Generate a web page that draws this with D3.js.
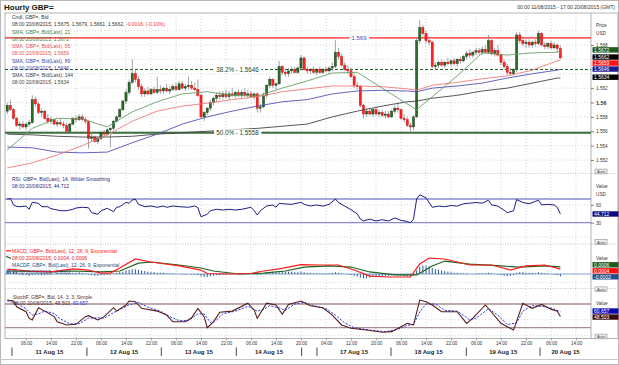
<!DOCTYPE html>
<html>
<head>
<meta charset="utf-8">
<script src="https://cdn.jsdelivr.net/npm/d3@7/dist/d3.min.js"></script>
<style>
body { margin: 0; background: #fff; }
svg { display: block; font-family: Arial, "Liberation Sans", sans-serif; }
</style>
</head>
<body>
<div id="chart"></div>
<script>
// hourly candles, prices in pips above 1.5500
var opens = [88,96,90,78,68,70,66,70,72,104, 98,86,88,78,74,76,70,72,70,68, 60,70,78,76,80,76,74,50,52,46,
  50,58,56,62,64,74,80,90,102,114, 128,140,132,122,112,116,112,118,114,118, 116,120,116,118,122,118,126,120,122,124,
  120,118,110,80,86,92,100,106,110,108, 112,108,112,110,114,110,114,110,112,108, 112,92,94,110,124,132,124,126,150,142,
  140,144,146,142,148,162,146,144,146,142, 146,142,146,144,148,150,170,164,152,146, 144,136,124,122,96,84,88,84,90,84,
  86,82,84,80,88,92,90,78,76,68, 66,80,186,204,196,186,184,150,152,156, 152,156,154,158,154,160,158,164,168,166,
  170,172,170,174,170,186,168,172,166,156, 150,142,140,146,194,186,182,184,180,184, 182,196,180,178,182,176,180,175];
var highs = [100,104,92,80,74,74,72,76,110,108, 100,92,90,84,80,78,76,78,74,72, 72,80,82,84,84,80,76,58,54,52,
  60,62,64,66,76,82,92,104,118,132, 160,146,136,126,120,122,120,122,136,124, 122,126,122,126,128,130,130,126,136,130,
  128,132,112,88,94,104,108,114,116,116, 118,116,120,116,118,118,120,118,116,114, 114,98,114,126,136,134,128,158,152,146,
  148,150,150,150,166,164,150,148,150,148, 150,148,150,150,156,187,176,168,156,152, 148,140,128,124,98,92,92,92,94,90,
  90,88,88,90,96,100,92,84,80,72, 82,190,215,208,200,192,186,156,158,160, 158,162,160,162,162,164,166,172,174,172,
  176,176,178,180,194,188,176,180,168,160, 154,148,148,198,198,190,188,188,186,188, 200,198,184,184,186,184,182,179];
var lows = [84,88,76,66,62,64,62,66,70,94, 84,80,76,70,70,68,66,68,64,58, 58,68,72,74,74,70,36,46,44,42,
  48,52,54,38,62,72,78,88,98,110, 126,128,118,108,108,110,110,112,112,112, 112,114,112,116,116,116,118,116,118,118,
  116,108,78,74,82,88,96,100,104,104, 106,104,108,106,108,106,108,106,106,104, 86,86,92,106,120,120,118,124,138,136,
  136,140,140,140,144,144,140,140,140,138, 140,140,142,140,144,148,160,150,144,140, 134,120,118,94,78,80,82,80,82,80,
  80,78,78,78,84,86,76,72,66,58, 62,78,182,192,182,180,148,146,148,150, 148,152,150,152,150,154,156,160,162,162,
  166,166,166,168,168,166,164,164,152,146, 138,138,138,142,182,178,176,176,176,178, 180,178,174,174,174,174,170,161];
var closes = [96,90,78,68,70,66,70,72,104,98, 86,88,78,74,76,70,72,70,68,60, 70,78,76,80,76,74,50,52,46,50,
  58,56,62,64,74,80,90,102,114,128, 140,132,122,112,116,112,118,114,118,116, 120,116,118,122,118,126,120,122,124,120,
  118,110,80,86,92,100,106,110,108,112, 108,112,110,114,110,114,110,112,108,112, 92,94,110,124,132,124,126,150,142,140,
  144,146,142,148,162,146,144,146,142,146, 142,146,144,148,150,170,164,152,146,144, 136,124,122,96,84,88,84,90,84,86,
  82,84,80,88,92,90,78,76,68,66, 80,186,204,196,186,184,150,152,156,152, 156,154,158,154,160,158,164,168,166,170,
  172,170,174,170,186,168,172,166,156,150, 142,140,146,194,186,182,184,180,184,182, 196,180,178,182,176,180,175,162];

// moving averages (pips above 1.5500)
var smaIdx = [0,8,16,24,32,40,48,56,64,72,80,88,96,104,112,120,128,131,136,144,152,160,168,176,177];
var sma21 = [34,64,78,77,66,87,101,112,115,110,109,120,130,141,142,120,98,90,108,137,169,166,169,170,172];
var sma55 = [9,16,27,40,55,74,88,95,99,104,108,115,119,123,123,122,119,117,124,128,133,137,145,158,159];
var sma89 = [38,37,31,30,31,44,56,70,80,88,95,101,104,112,116,117,116,115,120,123,127,134,140,145,146];
var sma144 = [56,55,53,52,52,53,56,58,60,62,64,67,70,80,88,95,101,102,106,110,116,120,127,134,134];

// retracement / resistance levels
var levels = [1.569, 1.5646, 1.5558];
var levelLabels = ["1.569", "38.2% - 1.5646", "50.0% - 1.5558"];

// RSI 14
var rsiIdx = [0,1,2,3,4,6,7,8,10,11,13,14,15,17,19,21,22,24,26,27,29,30,32,34,35,36,38,39,40,41,42,44,46,48,50,51,53,55,58,60,
  61,62,64,65,67,69,71,73,75,78,79,80,81,83,85,86,87,89,91,94,95,97,99,101,103,105,106,108,110,112,113,114,116,118,120,
  122,124,126,128,129,130,131,132,134,136,138,140,142,144,146,148,150,152,154,155,157,159,160,162,163,165,167,170,171,173,175,176,177];
var rsiVals = [69.5,71,60,57.5,57,58,52.6,64.4,62.7,57,57,53.6,52.6,50.3,50.3,52.6,54.8,56,55.3,46.9,44.2,50.3,54.3,48.6,56,57,64.4,62.7,68.3,69.5,61,57,58.2,56,58.2,56,58.2,57,56,58.2,
  55.3,40.1,44.2,50.3,52.6,51.4,52.6,51.4,52.6,56,50.3,43,50.3,58.2,59.9,56,62.7,61.6,61,64.4,61,58.2,60,58,61,70,64,58,52,45,36,33,36,33,35,
  33,38,34,32,30,36,70,77,72,56,58,57,59,58,62,63,64,63,68,60,58,51,47,50,69,64,62,68,60,61,60,56,44.712];

// MACD 12/26/9 (pips)
var macdIdx = [0,7,14,21,26,30,33,36,41,46,55,62,64,71,78,82,87,94,100,106,111,116,122,129,132,135,140,148,155,161,166,172,177];
var macdVals = [4,2.5,1.7,4.2,3.3,0.8,0.8,5,12.5,10,6.7,3.3,0.4,0,0.4,2.5,4.2,7.8,7.5,7.5,3.3,-1.7,-2.5,-2.5,8.3,13.3,12.5,7.5,7.5,3.3,6.7,7.5,4];
var sigIdx = [0,14,21,30,36,42,46,55,62,66,74,82,89,95,103,110,116,124,131,136,140,148,158,164,172,177];
var sigVals = [2.5,1.7,2.5,1.7,2.5,9,10,7.5,5,2.5,0,0.8,2.5,5.8,6.7,5.8,1.7,-0.8,-0.8,6.7,10.8,8.3,6.7,5.8,6.7,6];
var histVals = [3,2.5,2,1.5, -0.5,-1,-1,-1.5,-1,-0.5,-0.5,-1,-1,-0.5, -0.5,0,0.5,0.5,0,-0.5,0.5,1,1,1.5,1,0.5,
  -0.5,-1,-1.5,-1.5,-1,-1,-0.5,-0.5, 0.5,1,1.5,2,3,3.5,4,4,3.5,3,2.5,2, 1.5,1.5,1,1,1,0.5,0.5,0.5,0,0,-0.5,-0.5,0,-0.5,-0.5,
  -1,-2,-2.5,-2.5,-2,-1.5,-1,-1, -0.5,-0.5,0,0,0,0.5,0,0,0,0,-0.5,-1, -0.5,0,1,1.5,2,2,1.5,2.5,2,2,2,1.5,1.5,2,1.5,
  1,1,0.5,0.5,0.5,0.5,0.5,0.5,1,1.5, 1,0.5,0,-0.5,-1,-1.5,-2,-3,-3.5,-3.5,-3,-2.5,-2.5,-2,-2,-1.5,-1.5,-1,-1,-1.5,-1.5,-2,-2,-2,-1.5,
  3,6,7,7,6.5,5,4,3.5,3,2.5, 2,1.5,1,1,0.5,0.5,0.5,0,0,0.5, 0.5,0.5,0.5,1,0.5,0,-0.5,-1,-1.5,-2,
  -1.5,-1,1,1.5,1.5,1,1,1,0.5,1.5, 1,0.5,0.5,0,-0.5,-1,-2];

// fast stochastic 14/3/3
var kIdx = [0,2,3,6,7,8,10,12,15,16,19,22,25,26,29,31,34,35,38,39,41,43,48,51,53,57,59,61,63,64,66,68,72,77,79,80,83,86,88,90,94,
  97,101,104,107,110,115,120,123,126,128,130,132,134,136,139,144,147,149,153,158,162,165,168,171,174,176,177];
var kVals = [90,87.6,73,60.5,44,39.5,70.6,62,48,35,27,28.6,48,50.4,39.5,48,70.6,62,77.5,87.6,85.8,69,62,52,35,35,45,69,48,20,35,59,62,82,65,44,82,77.5,54,79,87.6,
  75.7,70.6,52,27,18.5,14,8.4,10,22.5,31,27,90,85.8,77.5,60.5,60.5,31,44,77.5,31,14,82,69,79,67,62,48.503];
var dIdx = [0,3,6,8,10,12,15,17,20,23,26,29,31,34,36,39,42,45,49,52,55,58,61,63,65,67,69,73,77,80,82,84,87,89,92,95,98,102,105,108,111,
  116,121,125,128,130,132,134,137,140,144,148,150,154,157,160,163,165,168,171,174,177];
var dVals = [88,82,68,52,55,62,56,42,30,30,44,45,44,58,66,78,84,72,62,48,38,38,55,55,33,40,55,62,74,62,66,76,70,64,80,84,76,68,52,32,20,
  14,10,16,26,28,60,80,80,64,62,40,44,68,52,28,32,62,76,74,70,60.657];

// time axis: a tick every 8 bars, day separators
var tickIdx = [6,14,22,30,38,46,54,62,70,78,86,94,102,110,118,126,134,142,150,158,166,174,182];
var tickLabels = ["06:00","14:00","22:00","06:00","14:00","22:00","06:00","14:00","22:00","06:00","14:00","20:00",
  "04:00","12:00","20:00","06:00","14:00","22:00","06:00","14:00","22:00","06:00","14:00"];
var dayIdx = [1.5,25.5,49.3,73.3,94.2,99.1,122.8,146.9,170.5];
var dayLabels = ["11 Aug 15","12 Aug 15","13 Aug 15","14 Aug 15","","17 Aug 15","18 Aug 15","19 Aug 15","20 Aug 15"];
var priceGrid = [1.552,1.554,1.556,1.558,1.56,1.562,1.564,1.566,1.568,1.57];
var priceTicks = [1.552,1.554,1.556,1.558,1.56,1.562,1.568];

var W = 619, H = 365, L = 5, R = 591;
var panelTop = {price: 13, rsi: 173.5, macd: 244, stoch: 288.5, axis: 338.5};
var P = function(v) { return 1.55 + v / 10000; };
var last = closes.length - 1;

var svg = d3.select("#chart").append("svg").attr("width", W).attr("height", H);
svg.append("rect").attr("x", 0.5).attr("y", 0.5).attr("width", W - 1).attr("height", H - 1)
  .attr("fill", "#fff").attr("stroke", "#b8b8b8");

var x = d3.scaleLinear().domain([0, 177]).range([7.25, 7.25 + 177 * 3.125]);
var yP = d3.scaleLinear().domain([1.552, 1.568]).range([160, 45]);
var yR = d3.scaleLinear().domain([30, 70]).range([222.7, 199]);
var yM = d3.scaleLinear().domain([0, 0.001]).range([274, 262]);
var yS = d3.scaleLinear().domain([20, 80]).range([327.7, 304]);

// clip paths per panel
var defs = svg.append("defs");
[["cP", panelTop.price, panelTop.rsi], ["cR", panelTop.rsi, panelTop.macd], ["cM", panelTop.macd, panelTop.stoch], ["cS", panelTop.stoch, panelTop.axis]].forEach(function(c) {
  defs.append("clipPath").attr("id", c[0]).append("rect")
    .attr("x", L).attr("y", c[1]).attr("width", R - L).attr("height", c[2] - c[1]);
});

// title
svg.append("text").attr("x", 4).attr("y", 9.5).attr("font-size", 8).attr("font-weight", "bold")
  .attr("fill", "#111").text("Hourly GBP=");
svg.append("text").attr("x", 615).attr("y", 9).attr("text-anchor", "end").attr("font-size", 5)
  .attr("fill", "#333").text("00:00 11/08/2015 - 17:00 20/08/2015 (GMT)");

// frame and panel separators
svg.append("rect").attr("x", L).attr("y", panelTop.price).attr("width", W - 1 - L).attr("height", panelTop.axis - panelTop.price)
  .attr("fill", "none").attr("stroke", "#a0a0a0").attr("stroke-width", 0.8);
svg.append("line").attr("x1", R).attr("x2", R).attr("y1", panelTop.price).attr("y2", panelTop.axis)
  .attr("stroke", "#a0a0a0").attr("stroke-width", 0.8);
[panelTop.rsi, panelTop.macd, panelTop.stoch].forEach(function(y) {
  svg.append("line").attr("x1", L).attr("x2", W - 1).attr("y1", y).attr("y2", y)
    .attr("stroke", "#b0b0b0").attr("stroke-width", 0.8).attr("stroke-dasharray", "1,1.5");
});

// grid
var grid = svg.append("g").attr("stroke", "#c4c4c4").attr("stroke-width", 0.7).attr("stroke-dasharray", "1,2");
grid.selectAll(".vg").data(tickIdx).join("line").attr("class", "vg")
  .attr("x1", function(d) { return x(d); }).attr("x2", function(d) { return x(d); })
  .attr("y1", panelTop.price).attr("y2", panelTop.axis);
grid.selectAll(".pg").data(priceGrid).join("line").attr("class", "pg")
  .attr("x1", L).attr("x2", R).attr("y1", function(d) { return yP(d); }).attr("y2", function(d) { return yP(d); });
[yR(60), yR(0) - 3.5, yM(-0.0007), yS(40), yS(0)].forEach(function(y) {
  grid.append("line").attr("x1", L).attr("x2", R).attr("y1", y).attr("y2", y);
});

// ---- price panel
var pp = svg.append("g").attr("clip-path", "url(#cP)");
var lvColors = ["#ff2020", "#1a5a1a", "#3d6e3d"];
levels.forEach(function(v, k) {
  pp.append("line").attr("x1", L).attr("x2", R).attr("y1", yP(v)).attr("y2", yP(v))
    .attr("stroke", lvColors[k]).attr("stroke-width", k == 2 ? 2 : (k == 0 ? 1.2 : 1))
    .attr("stroke-dasharray", k == 1 ? "3,2" : null);
});
var bars = closes.map(function(c, i) { return {i: i, o: opens[i], h: highs[i], l: lows[i], c: c}; });
pp.selectAll(".wick").data(bars).join("line").attr("class", "wick")
  .attr("x1", function(d) { return x(d.i); }).attr("x2", function(d) { return x(d.i); })
  .attr("y1", function(d) { return yP(P(d.h)); }).attr("y2", function(d) { return yP(P(d.l)); })
  .attr("stroke", "#8c8c8c").attr("stroke-width", 0.8);
pp.selectAll(".body").data(bars).join("rect").attr("class", "body")
  .attr("x", function(d) { return x(d.i) - 1.1; }).attr("width", 2.2)
  .attr("y", function(d) { return yP(P(Math.max(d.o, d.c))); })
  .attr("height", function(d) { return Math.max(0.8, Math.abs(yP(P(d.o)) - yP(P(d.c)))); })
  .attr("fill", function(d) { return d.c >= d.o ? "#2b6b2b" : "#ff2222"; })
  .attr("stroke", function(d) { return d.c >= d.o ? "#0c2c0c" : "#c80000"; })
  .attr("stroke-width", 0.4);

var smaLine = d3.line().x(function(d, k) { return x(smaIdx[k]); }).y(function(d) { return yP(P(d)); });
[[sma144, "#444"], [sma89, "#5252b8"], [sma55, "#f07a7a"], [sma21, "#6a9e6a"]].forEach(function(s) {
  pp.append("path").attr("d", smaLine(s[0])).attr("fill", "none").attr("stroke", s[1]).attr("stroke-width", 0.9);
});

// level labels
var lvLabelX = [359, 237.5, 237.5];
var lvLabelColor = ["#4a4ac0", "#1a4a1a", "#1a4a1a"];
levels.forEach(function(v, k) {
  var t = svg.append("text").attr("x", lvLabelX[k]).attr("y", yP(v) + 2.1).attr("text-anchor", "middle")
    .attr("font-size", k == 0 ? 6 : 6.3).attr("fill", lvLabelColor[k]).text(levelLabels[k]);
  var b = t.node().getBBox();
  svg.insert("rect", function() { return t.node(); }).attr("x", b.x - 2).attr("y", b.y + 0.5)
    .attr("width", b.width + 4).attr("height", b.height - 1).attr("fill", "#fff");
});

// legend helper
function legend(lines, x0, y0, step) {
  var g = svg.append("g").attr("font-size", 5);
  lines.forEach(function(parts, k) {
    var t = g.append("text").attr("x", x0).attr("y", y0 + k * step);
    parts.forEach(function(p) { t.append("tspan").attr("fill", p[1]).text(p[0]); });
  });
}
legend([
  [["Cndl, GBP=, Bid", "#333"]],
  [["08:00 20/08/2015, 1.5675, 1.5679, 1.5661, 1.5662, ", "#333"], ["-0.0016, (-0.10%)", "#ff3030"]],
  [["SMA, GBP=, Bid(Last),  21", "#3f7f3f"]],
  [["08:00 20/08/2015, 1.5672", "#3f7f3f"]],
  [["SMA, GBP=, Bid(Last),  55", "#e55050"]],
  [["08:00 20/08/2015, 1.5659", "#e55050"]],
  [["SMA, GBP=, Bid(Last),  89", "#4444a8"]],
  [["08:00 20/08/2015, 1.5646", "#4444a8"]],
  [["SMA, GBP=, Bid(Last),  144", "#444"]],
  [["08:00 20/08/2015, 1.5634", "#444"]]
], 12, 19, 7.25);

// ---- RSI panel
var rp = svg.append("g").attr("clip-path", "url(#cR)");
[70, 30].forEach(function(v) {
  rp.append("line").attr("x1", L).attr("x2", R).attr("y1", yR(v)).attr("y2", yR(v))
    .attr("stroke", "#8a8acc").attr("stroke-width", 1.3);
});
rp.append("path").datum(rsiVals)
  .attr("d", d3.line().x(function(d, k) { return x(rsiIdx[k]); }).y(function(d) { return yR(d); }))
  .attr("fill", "none").attr("stroke", "#1c1c88").attr("stroke-width", 1);
legend([
  [["RSI, GBP=, Bid(Last),  14, Wilder Smoothing", "#2a2a80"]],
  [["08:00 20/08/2015, 44.712", "#2a2a80"]]
], 12, 181, 7);

// ---- MACD panel
var mp = svg.append("g").attr("clip-path", "url(#cM)");
mp.append("line").attr("x1", L).attr("x2", R).attr("y1", yM(0)).attr("y2", yM(0))
  .attr("stroke", "#7fa2cc").attr("stroke-width", 1);
mp.selectAll(".hist").data(histVals).join("rect").attr("class", "hist")
  .attr("x", function(d, i) { return x(i) - 0.5; }).attr("width", 1)
  .attr("y", function(d) { return Math.min(yM(0), yM(d / 10000)); })
  .attr("height", function(d) { return Math.abs(yM(d / 10000) - yM(0)); })
  .attr("fill", "#2d5c9c");
mp.append("path").datum(sigVals)
  .attr("d", d3.line().x(function(d, k) { return x(sigIdx[k]); }).y(function(d) { return yM(d / 10000); }))
  .attr("fill", "none").attr("stroke", "#1d621d").attr("stroke-width", 1.2);
mp.append("path").datum(macdVals)
  .attr("d", d3.line().x(function(d, k) { return x(macdIdx[k]); }).y(function(d) { return yM(d / 10000); }))
  .attr("fill", "none").attr("stroke", "#ff1a1a").attr("stroke-width", 1.2);
legend([
  [["MACD, GBP=, Bid(Last),  12, 26, 9, Exponential", "#ff2020"]],
  [["08:00 20/08/2015, 0.0004, 0.0006", "#e02020"]],
  [["MACDF, GBP=, Bid(Last),  12, 26, 9, Exponential", "#2a4a7a"]],
  [["08:00 20/08/2015, -0.0002", "#2a4a7a"]]
], 12, 252.5, 7.2);
svg.append("line").attr("x1", 6).attr("x2", 11).attr("y1", 250.8).attr("y2", 250.8).attr("stroke", "#ff1a1a").attr("stroke-width", 1.2);
svg.append("line").attr("x1", 6).attr("x2", 11).attr("y1", 256.2).attr("y2", 258.5).attr("stroke", "#1d621d").attr("stroke-width", 1.2);
[7, 8.5, 10].forEach(function(xx) {
  svg.append("line").attr("x1", xx).attr("x2", xx).attr("y1", 270).attr("y2", 274).attr("stroke", "#2d5c9c").attr("stroke-width", 0.8);
});

// ---- Stochastic panel
var sp = svg.append("g").attr("clip-path", "url(#cS)");
[80, 20].forEach(function(v) {
  sp.append("line").attr("x1", L).attr("x2", R).attr("y1", yS(v)).attr("y2", yS(v))
    .attr("stroke", "#a88e8e").attr("stroke-width", 1.3);
});
sp.append("path").datum(dVals)
  .attr("d", d3.line().x(function(d, k) { return x(dIdx[k]); }).y(function(d) { return yS(d); }))
  .attr("fill", "none").attr("stroke", "#2a3ee6").attr("stroke-width", 1).attr("stroke-dasharray", "2.2,1.4");
sp.append("path").datum(kVals)
  .attr("d", d3.line().x(function(d, k) { return x(kIdx[k]); }).y(function(d) { return yS(d); }))
  .attr("fill", "none").attr("stroke", "#561c1c").attr("stroke-width", 1.1);
legend([
  [["StochF, GBP=, Bid,  14, 3, 3, Simple", "#5a2a2a"]],
  [["08:00 20/08/2015, 48.503, ", "#5a2a2a"], ["60.657", "#2a3ee6"]]
], 13, 298.5, 6.6);

// ---- right axes
var ax = svg.append("g").attr("transform", "translate(" + R + ",0)")
  .call(d3.axisRight(yP).tickValues(priceTicks).tickSize(3).tickPadding(2)
    .tickFormat(function(d) { return String(+d.toFixed(3)); }));
ax.select(".domain").remove();
ax.selectAll("line").attr("stroke", "#555").attr("stroke-width", 0.7);
ax.selectAll("text").attr("font-size", 4.7).attr("fill", "#333").attr("font-family", "Arial, 'Liberation Sans', sans-serif")
  .filter(function(d) { return d === 1.56; }).attr("font-size", 5.4).attr("font-weight", "bold");

var ra = svg.append("g").attr("transform", "translate(" + R + ",0)")
  .call(d3.axisRight(yR).tickValues([60, 30]).tickSize(3).tickPadding(2));
ra.select(".domain").remove();
ra.selectAll("line").attr("stroke", "#555").attr("stroke-width", 0.7);
ra.selectAll("text").attr("font-size", 4.7).attr("fill", "#333").attr("font-family", "Arial, 'Liberation Sans', sans-serif");

var small = svg.append("g").attr("font-size", 4.7).attr("fill", "#333");
[["Price", 27], ["USD", 35], ["Value", 188], ["USD", 196], ["Value", 259.5], ["Value", 304.5]].forEach(function(t) {
  small.append("text").attr("x", 596).attr("y", t[1]).text(t[0]);
});

// value boxes, stacked so they do not overlap
function boxes(items, gap) {
  items.sort(function(a, b) { return a.y - b.y; });
  var want = d3.mean(items, function(d) { return d.y; });
  for (var k = 1; k < items.length; k++) {
    if (items[k].y < items[k - 1].y + gap) items[k].y = items[k - 1].y + gap;
  }
  var shift = want - d3.mean(items, function(d) { return d.y; });
  items.forEach(function(d) {
    var cy = d.y + shift;
    svg.append("rect").attr("x", 592.5).attr("y", cy - 2.7).attr("width", 26).attr("height", 5.4).attr("fill", d.c);
    svg.append("text").attr("x", 594).attr("y", cy + 1.8).attr("font-size", 5).attr("fill", "#fff").text(d.t);
  });
}
boxes([
  {y: yP(P(sma21[sma21.length - 1])), c: "#1f5a1f", t: P(sma21[sma21.length - 1]).toFixed(4)},
  {y: yP(P(closes[last])), c: "#000", t: P(closes[last]).toFixed(4)},
  {y: yP(P(sma55[sma55.length - 1])), c: "#ff1010", t: P(sma55[sma55.length - 1]).toFixed(4)},
  {y: yP(P(sma89[sma89.length - 1])), c: "#1c1c8c", t: P(sma89[sma89.length - 1]).toFixed(4)},
  {y: yP(P(sma144[sma144.length - 1])), c: "#000", t: P(sma144[sma144.length - 1]).toFixed(4)}
], 6);
boxes([{y: yR(rsiVals[rsiVals.length - 1]), c: "#0a0a80", t: String(rsiVals[rsiVals.length - 1])}], 6);
boxes([
  {y: yM(sigVals[sigVals.length - 1] / 10000), c: "#1f5a1f", t: (sigVals[sigVals.length - 1] / 10000).toFixed(4)},
  {y: yM(macdVals[macdVals.length - 1] / 10000), c: "#ff1010", t: (macdVals[macdVals.length - 1] / 10000).toFixed(4)},
  {y: yM(histVals[histVals.length - 1] / 10000), c: "#1e4f8c", t: (histVals[histVals.length - 1] / 10000).toFixed(4)}
], 6);
boxes([
  {y: yS(dVals[dVals.length - 1]), c: "#0a0ab4", t: String(dVals[dVals.length - 1])},
  {y: yS(kVals[kVals.length - 1]), c: "#3a0c0c", t: String(kVals[kVals.length - 1])}
], 6);

// "Auto" buttons
[171.5, 242, 289.3, 336.5].forEach(function(cy) {
  svg.append("rect").attr("x", 595).attr("y", cy - 2.4).attr("width", 12).attr("height", 4.8)
    .attr("fill", "#f0f0f0").attr("stroke", "#777").attr("stroke-width", 0.5);
  svg.append("text").attr("x", 601).attr("y", cy + 1.5).attr("text-anchor", "middle")
    .attr("font-size", 4).attr("fill", "#444").text("Auto");
});

// ---- time axis
var ta = svg.append("g").attr("transform", "translate(0," + panelTop.axis + ")")
  .call(d3.axisBottom(x).tickValues(tickIdx).tickSize(2).tickPadding(1.5)
    .tickFormat(function(d, k) { return tickLabels[k]; }));
ta.select(".domain").remove();
ta.selectAll("line").attr("stroke", "#666").attr("stroke-width", 0.6);
ta.selectAll("text").attr("font-size", 4.5).attr("fill", "#333").attr("font-family", "Arial, 'Liberation Sans', sans-serif");

var days = svg.append("g");
dayIdx.forEach(function(d, k) {
  days.append("line").attr("x1", x(d)).attr("x2", x(d)).attr("y1", 347.5).attr("y2", 356)
    .attr("stroke", "#333").attr("stroke-width", 0.9);
  var end = k < dayIdx.length - 1 ? x(dayIdx[k + 1]) : R;
  days.append("text").attr("x", (x(d) + end) / 2).attr("y", 354).attr("text-anchor", "middle")
    .attr("font-size", 6).attr("font-weight", "bold").attr("fill", "#222").text(dayLabels[k]);
});
svg.append("line").attr("x1", 0).attr("x2", W).attr("y1", 359.5).attr("y2", 359.5).attr("stroke", "#c8c8c8");
</script>
</body>
</html>
